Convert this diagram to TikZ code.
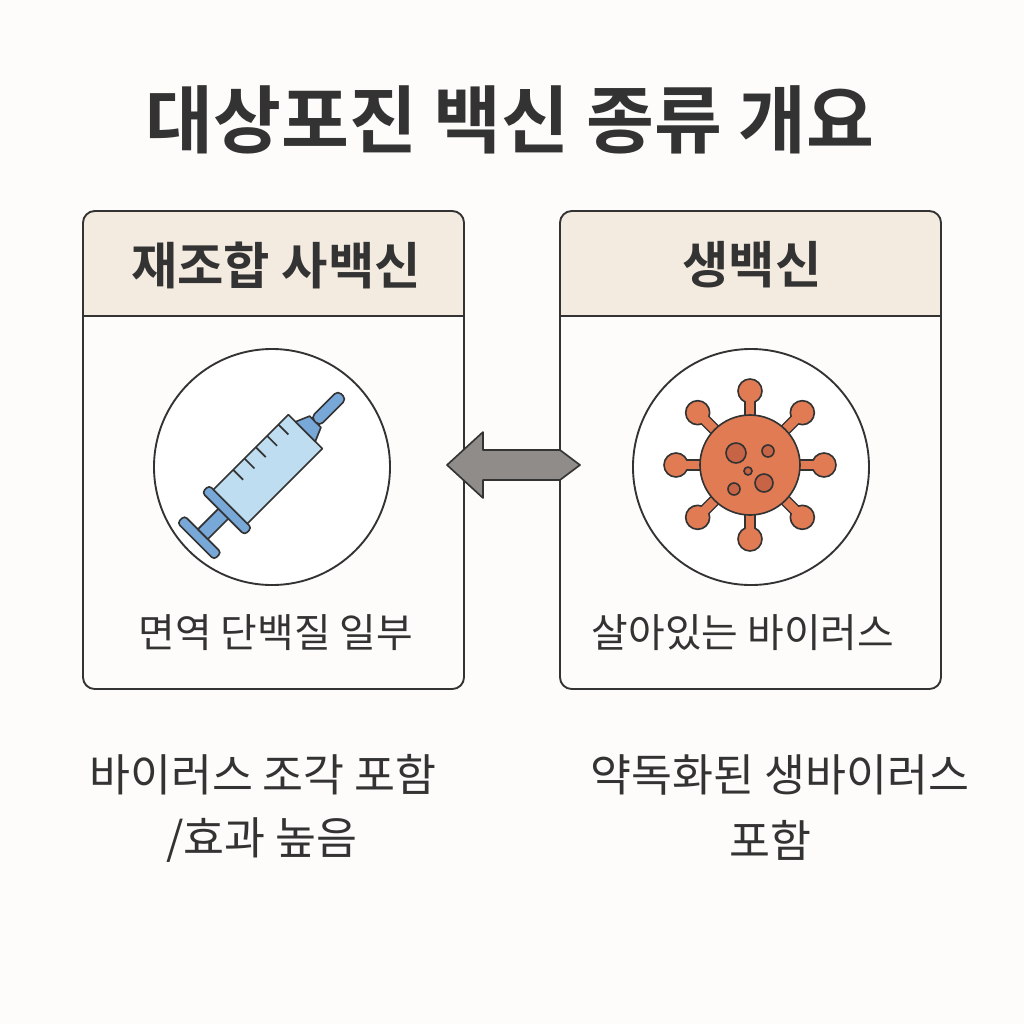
\documentclass[tikz,border=0pt]{standalone}
\usepackage{fontspec}
\newfontfamily\kr{Noto Sans CJK KR}
\newfontfamily\krb{Noto Sans CJK KR Bold}
\definecolor{ink}{HTML}{333333}
\definecolor{beige}{HTML}{F3EAE0}
\definecolor{bgc}{HTML}{FDFCFA}
\definecolor{orng}{HTML}{E07B54}
\definecolor{orngd}{HTML}{C86446}
\definecolor{lblue}{HTML}{BFDDF0}
\definecolor{mblue}{HTML}{78A8D8}
\definecolor{agray}{HTML}{8F8C89}
\tikzset{
 panel/.style={draw=ink,line width=1.6pt,rounded corners=10pt},
 hdr/.style={font=\krb\fontsize{43}{48}\selectfont,text=ink},
 body/.style={font=\kr\fontsize{34}{38}\selectfont,text=ink},
 foot/.style={font=\kr\fontsize{38}{44}\selectfont,text=ink},
 ring/.style={draw=ink,line width=1.6pt,fill=white},
 ol/.style={draw=ink,line width=1.4pt,line join=round}
}
\begin{document}
\begin{tikzpicture}[x=0.03cm,y=-0.03cm]
\fill[bgc] (0,0) rectangle (1024,1024);
\useasboundingbox (0,0) rectangle (1024,1024);
\node[font=\krb\fontsize{63}{70}\selectfont,text=ink] (title) at (510,120) {대상포진 백신 종류 개요};
% left panel
\begin{scope}
\clip[rounded corners=10pt] (83,211) rectangle (464,689);
\fill[beige] (83,211) rectangle (464,316);
\end{scope}
\draw[panel] (83,211) rectangle (464,689);
\draw[ink,line width=1.6pt] (83,316) -- (464,316);
\node[hdr] (lh) at (276,265) {재조합 사백신};
\node[ring,circle,minimum size=236*0.03cm] (lc) at (272,467) {};
\node[body] (lt) at (276,633) {면역 단백질 일부};
% right panel
\begin{scope}
\clip[rounded corners=10pt] (560,211) rectangle (941,689);
\fill[beige] (560,211) rectangle (941,316);
\end{scope}
\draw[panel] (560,211) rectangle (941,689);
\draw[ink,line width=1.6pt] (560,316) -- (941,316);
\node[hdr] (rh) at (752,265) {생백신};
\node[ring,circle,minimum size=236*0.03cm] (rc) at (751,467) {};
\node[body] (rt) at (743,633) {살아있는 바이러스};
% arrow
\draw[fill=agray,draw=ink,line width=1.4pt,line join=round]
 (447,465) -- (483,432) -- (483,450) -- (560,450) -- (580,465) -- (560,480) -- (483,480) -- (483,498) -- cycle;
% footers
\node[foot] (f1) at (263,775) {바이러스 조각 포함};
\node[foot] (f2) at (262,840) {/효과 높음};
\node[foot] (f3) at (780,775) {약독화된 생바이러스};
\node[foot] (f4) at (770,840) {포함};
% syringe
\begin{scope}[shift={(270,467)},x=0.03cm,y=0.03cm,rotate=45]
\draw[ol,fill=mblue,rounded corners=3pt] (-105,-26) rectangle (-95,26);
\draw[ol,fill=mblue] (-95,-7) rectangle (-62,7);
\draw[ol,fill=mblue,rounded corners=3pt] (-66,-30) rectangle (-56,30);
\draw[ol,fill=lblue] (-56,-24) rectangle (50,24);
\foreach \t in {-28,-12,4,20,36} \draw[ink,line width=1.4pt] (\t,24) -- (\t,10);
\draw[ol,fill=mblue] (50,-14) -- (64,-8) -- (64,8) -- (50,14) -- cycle;
\draw[ol,fill=mblue,rounded corners=4pt] (64,-6) rectangle (102,6);
\end{scope}
% virus
\begin{scope}[shift={(750,465)}]
\foreach \a in {0,45,...,315}{
 \draw[ink,line width=10pt] (0,0) -- (\a:68);
 \draw[ol,fill=orng] (\a:74) circle (12);
}
\foreach \a in {0,45,...,315}{
 \draw[orng,line width=7.6pt] (0,0) -- (\a:66);
}
\draw[ol,fill=orng] (0,0) circle (50);
\draw[ol,fill=orngd] (-14,-12) circle (10);
\draw[ol,fill=orngd] (18,-14) circle (6);
\draw[ol,fill=orngd] (14,18) circle (9);
\draw[ol,fill=orngd] (-16,24) circle (6);
\draw[ol,fill=orngd] (-2,6) circle (4);
\end{scope}
\end{tikzpicture}
\end{document}
